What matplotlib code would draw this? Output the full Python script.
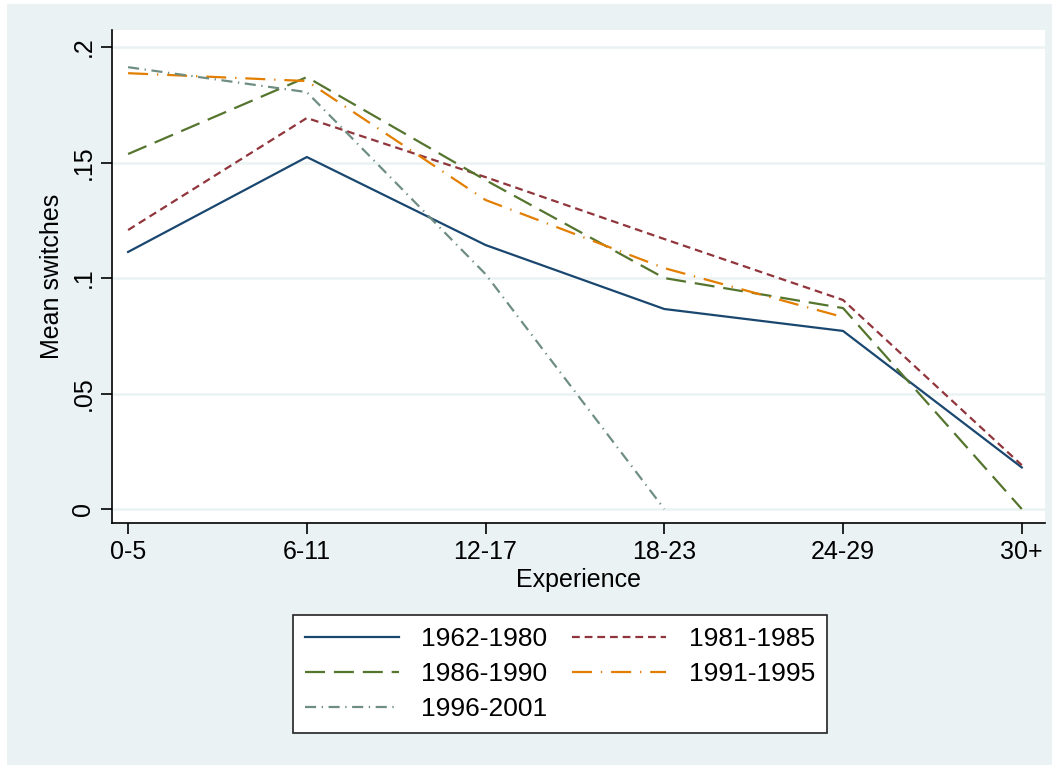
import numpy as np
import matplotlib.pyplot as plt
from matplotlib.patches import Rectangle

plt.rcParams["font.family"] = ["Liberation Sans", "DejaVu Sans"]

# ---------------------------------------------
# Data
# ---------------------------------------------
experience = ["0-5", "6-11", "12-17", "18-23", "24-29", "30+"]

s1962_1980 = [0.1113, 0.1524, 0.1143, 0.0866, 0.0771, 0.0180]
s1981_1985 = [0.1208, 0.1693, 0.1437, 0.1169, 0.0905, 0.0190]
s1986_1990 = [0.1537, 0.1870, 0.1424, 0.1000, 0.0870, 0.0000]
s1991_1995 = [0.1887, 0.1853, 0.1338, 0.1043, 0.0831, np.nan]
s1996_2001 = [0.1913, 0.1805, 0.1017, 0.0000, np.nan, np.nan]

labels = ["1962-1980", "1981-1985", "1986-1990", "1991-1995", "1996-2001"]

# ---------------------------------------------
# Figure
# ---------------------------------------------
bg = "#EAF2F3"
fs = 18
fig = plt.figure(figsize=(10.59, 7.69), dpi=100, facecolor="white")
fig.patches.append(Rectangle((7 / 1059, 1 - 765 / 769), 1045 / 1059, 761 / 769,
                             transform=fig.transFigure, facecolor=bg,
                             edgecolor="none", zorder=-10))

ax = fig.add_axes([112 / 1059, 1 - 523 / 769, 933 / 1059, 493 / 769])
ax.set_facecolor("white")

x = np.arange(len(experience))
lines = []
lines += ax.plot(x, s1962_1980, color="#1A476F", lw=1.6, ls="-", label=labels[0])
lines += ax.plot(x, s1981_1985, color="#90353B", lw=1.6, ls=(0, (3.5, 2.2)), label=labels[1])
lines += ax.plot(x, s1986_1990, color="#55752F", lw=1.6, ls=(0, (9, 4)), label=labels[2])
lines += ax.plot(x, s1991_1995, color="#E37E00", lw=1.6, ls=(0, (9, 4, 0.6, 4)), label=labels[3])
lines += ax.plot(x, s1996_2001, color="#6E8E84", lw=1.6, ls=(0, (5, 2.5, 0.6, 2.5)), label=labels[4])

ax.set_xlim(-0.09, 5.13)
ax.set_ylim(-0.00606, 0.2074)

ax.set_xticks(x)
ax.set_xticklabels(experience, fontsize=fs)
ax.set_yticks([0, 0.05, 0.1, 0.15, 0.2])
ax.set_yticklabels(["0", ".05", ".1", ".15", ".2"], fontsize=fs,
                   rotation=90, va="center")

ax.grid(axis="y", color="#EAF2F3", lw=1.8)
ax.set_axisbelow(True)

for side in ["top", "right"]:
    ax.spines[side].set_visible(False)
ax.spines["left"].set_linewidth(1.2)
ax.spines["bottom"].set_linewidth(1.2)
ax.tick_params(direction="out", length=8, width=1.2, pad=4)

ax.set_xlabel("Experience", fontsize=fs, labelpad=3)
ax.set_ylabel("Mean switches", fontsize=fs, labelpad=5)

# row-wise legend order, as in the original
order = [0, 2, 4, 1, 3]
leg = fig.legend([lines[i] for i in order], [labels[i] for i in order],
                 loc="center", bbox_to_anchor=(560 / 1059, 1 - 674 / 769),
                 ncol=2, fontsize=19, frameon=True, fancybox=False,
                 handlelength=3.55, handletextpad=0.85, columnspacing=0.95,
                 labelspacing=0.41, borderpad=0.45, framealpha=1.0)
leg.get_frame().set_facecolor("white")
leg.get_frame().set_edgecolor("#222222")
leg.get_frame().set_linewidth(1.2)

fig.savefig("out.png", dpi=100, facecolor="white")
